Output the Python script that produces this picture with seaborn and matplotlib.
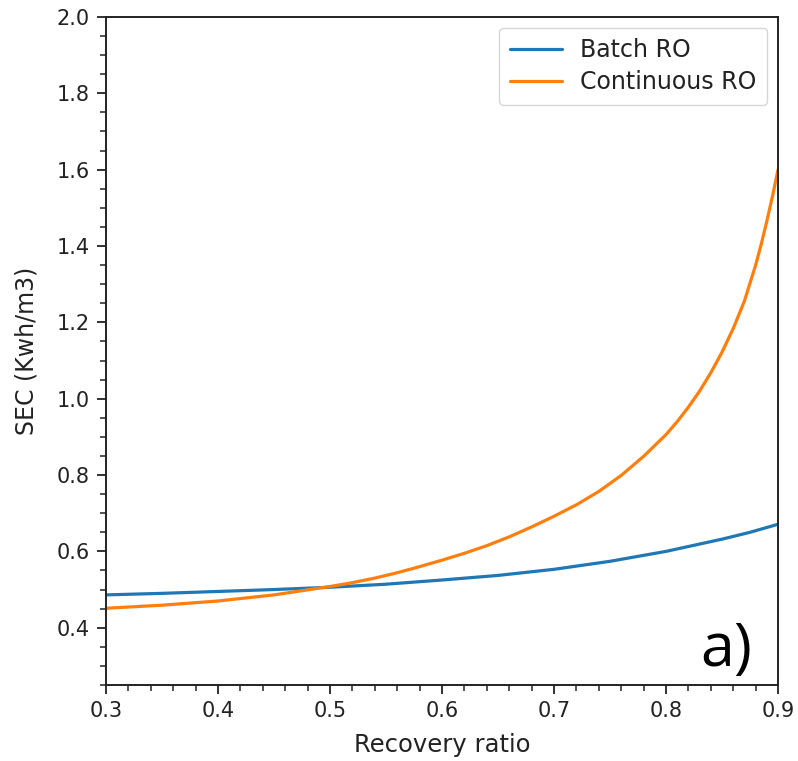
import numpy as np
import pandas as pd
import matplotlib
matplotlib.use("Agg")
import matplotlib.pyplot as plt
import seaborn as sns
from matplotlib.ticker import MultipleLocator

# Data
batch_x = [0.30, 0.35, 0.40, 0.45, 0.50, 0.55, 0.60, 0.65, 0.70, 0.75, 0.80, 0.85, 0.875, 0.90]
batch_sec = [0.486, 0.490, 0.495, 0.500, 0.506, 0.514, 0.525, 0.537, 0.553, 0.574, 0.600, 0.632, 0.650, 0.671]

cont_x = [0.30, 0.35, 0.40, 0.45, 0.50, 0.52, 0.54, 0.56, 0.58, 0.60, 0.62, 0.64, 0.66, 0.68,
          0.70, 0.72, 0.74, 0.76, 0.78, 0.80, 0.81, 0.82, 0.83, 0.84, 0.85, 0.86, 0.87,
          0.88, 0.885, 0.89, 0.895, 0.90]
cont_sec = [0.451, 0.459, 0.470, 0.486, 0.508, 0.518, 0.530, 0.544, 0.560, 0.577, 0.595, 0.615,
            0.638, 0.664, 0.692, 0.722, 0.757, 0.799, 0.849, 0.906, 0.940, 0.978, 1.020, 1.068,
            1.122, 1.184, 1.256, 1.350, 1.405, 1.465, 1.530, 1.600]

series_names = ["Batch RO", "Continuous RO"]

df = pd.concat([
    pd.DataFrame({"Recovery ratio": batch_x, "SEC": batch_sec, "Process": series_names[0]}),
    pd.DataFrame({"Recovery ratio": cont_x, "SEC": cont_sec, "Process": series_names[1]}),
], ignore_index=True)

sns.set_style("ticks")
plt.rcParams['font.family'] = ['DejaVu Sans']

fig = plt.figure(figsize=(7.98, 7.61), dpi=100)
ax = fig.add_axes([0.1328, 0.0999, 0.975 - 0.1328, 0.9777 - 0.0999])

sns.lineplot(data=df, x="Recovery ratio", y="SEC", hue="Process",
             hue_order=series_names, palette=["#1f77b4", "#ff7f0e"],
             linewidth=2.3, ax=ax, sort=True, estimator=None)

ax.set_xlim(0.3, 0.9)
ax.set_ylim(0.25, 2.0)
ax.xaxis.set_major_locator(MultipleLocator(0.1))
ax.xaxis.set_minor_locator(MultipleLocator(0.02))
ax.yaxis.set_major_locator(MultipleLocator(0.2))
ax.yaxis.set_minor_locator(MultipleLocator(0.05))
ax.set_xticks([0.3, 0.4, 0.5, 0.6, 0.7, 0.8, 0.9])
ax.set_xticklabels(["0.3", "0.4", "0.5", "0.6", "0.7", "0.8", "0.9"])
ax.set_yticks([0.4, 0.6, 0.8, 1.0, 1.2, 1.4, 1.6, 1.8, 2.0])
ax.set_yticklabels(["0.4", "0.6", "0.8", "1.0", "1.2", "1.4", "1.6", "1.8", "2.0"])

ax.tick_params(axis="both", which="major", direction="out", length=6.5, width=1.3,
               labelsize=15, colors="#222222", pad=5)
ax.tick_params(axis="both", which="minor", direction="out", length=4, width=1.1, colors="#222222")

for s in ax.spines.values():
    s.set_visible(True)
    s.set_linewidth(1.4)
    s.set_color("#222222")

ax.set_xlabel("Recovery ratio", fontsize=17.5, color="#222222", labelpad=9)
ax.set_ylabel("SEC (Kwh/m3)", fontsize=17, color="#222222", labelpad=13)

leg = ax.legend(loc="upper right", fontsize=17, frameon=True, handlelength=2.2,
                borderpad=0.45, labelspacing=0.35, handletextpad=0.8, borderaxespad=0.45)
leg.get_frame().set_edgecolor("#cccccc")
leg.get_frame().set_linewidth(1.0)
for t in leg.get_texts():
    t.set_color("#222222")
for h in leg.get_lines():
    h.set_linewidth(2.3)

ax.text(0.961, 0.008, "a)", transform=ax.transAxes, ha="right", va="bottom",
        fontsize=44, color="black", family=["Open Sans", "DejaVu Sans"])

fig.savefig("out.png", dpi=100)
